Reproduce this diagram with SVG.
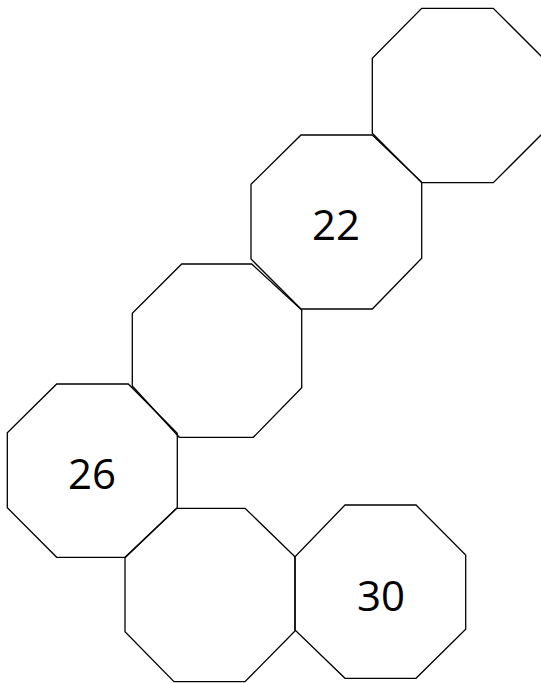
<svg xmlns="http://www.w3.org/2000/svg" width="541" height="683" viewBox="0 0 541 683">
<style>
.oct{fill:none;stroke:#000;stroke-width:1.3;stroke-linejoin:miter}
.lbl{font-family:"Open Sans","Liberation Sans",sans-serif;font-size:42px;fill:#000;text-anchor:middle}
</style>
<rect width="541" height="683" fill="#fff"/>
<g id="oct1"><polygon class="oct" points="421.7,8.3 493.3,8.3 543,58 543,133 493.3,182.7 421.7,182.7 372.3,133.3 372.3,58.3"/></g>
<g id="oct2"><polygon class="oct" points="301,135 372.3,135 421.7,182.3 421.7,258.3 372.3,309 301,309 251,259 251,184.3"/><text class="lbl" x="336" y="240">22</text></g>
<g id="oct3"><polygon class="oct" points="181.7,264 251.7,264 301.7,310 301.7,387.7 253.3,437.3 179.3,437.3 132.3,386 132.3,313.3"/></g>
<g id="oct4"><polygon class="oct" points="56.7,384 128.3,384 177.3,433.3 177.3,507.7 125,557.3 56.7,557.3 7.3,507.7 7.3,432.7"/><text class="lbl" x="92" y="489">26</text></g>
<g id="oct5"><polygon class="oct" points="176.7,508.3 245,508.3 295,556.7 295,631 245,681.7 174,681.7 125,631.7 125,557.7"/></g>
<g id="oct6"><polygon class="oct" points="345,505 416,505 465.7,555 465.7,629.3 416,678.3 345,678.3 295,630 295,556.7"/><text class="lbl" x="381" y="611">30</text></g>
<g id="connectors"/>
</svg>
